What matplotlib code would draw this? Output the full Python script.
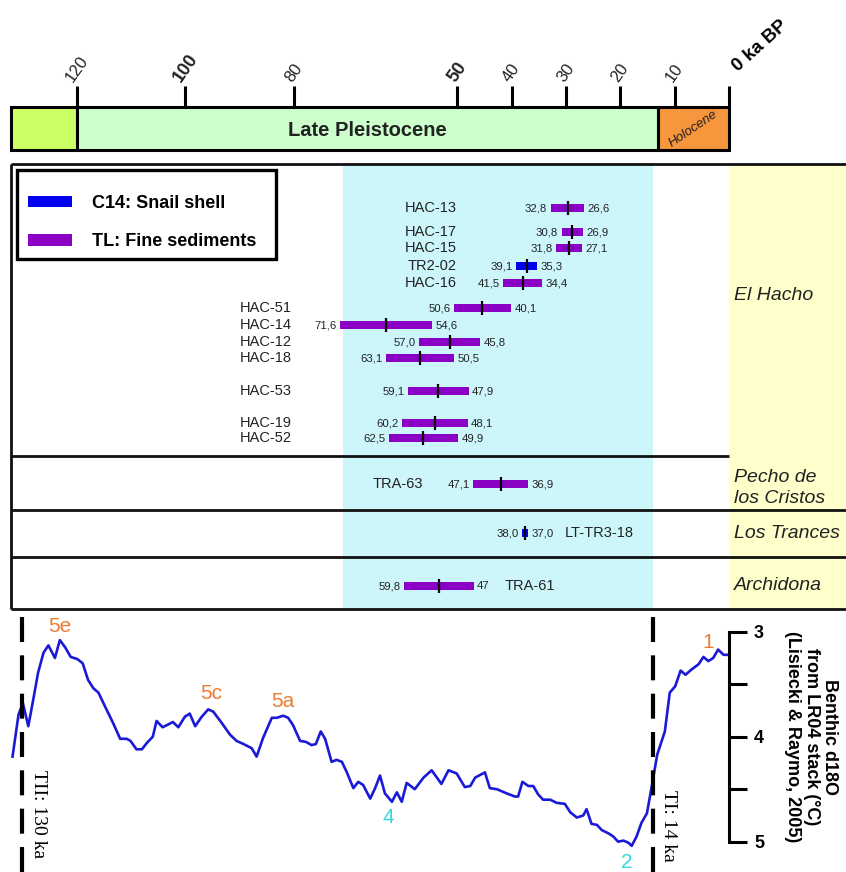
import matplotlib.pyplot as plt
from matplotlib.patches import Patch, Rectangle

plt.rcParams['font.family'] = ['Liberation Sans', 'DejaVu Sans']

# ---------------- data ----------------
# chronostratigraphic bar (ka BP)
period_names = ['', 'Late Pleistocene', 'Holocene']
period_start = [132, 120, 13]
period_end = [120, 13, 0]
period_colors = ['#ccff66', '#ccffcc', '#f7963c']

tick_ages = [120, 100, 80, 50, 40, 30, 20, 10]
tick_bold = [False, True, False, True, False, False, False, False]

# dated samples (older / younger limits as printed, ka)
samples = ['HAC-13', 'HAC-17', 'HAC-15', 'TR2-02', 'HAC-16',
           'HAC-51', 'HAC-14', 'HAC-12', 'HAC-18', 'HAC-53', 'HAC-19', 'HAC-52',
           'TRA-63', 'LT-TR3-18', 'TRA-61']
old_lbl = ['32,8', '30,8', '31,8', '39,1', '41,5',
           '50,6', '71,6', '57,0', '63,1', '59,1', '60,2', '62,5',
           '47,1', '38,0', '59,8']
young_lbl = ['26,6', '26,9', '27,1', '35,3', '34,4',
             '40,1', '54,6', '45,8', '50,5', '47,9', '48,1', '49,9',
             '36,9', '37,0', '47']
method = ['TL', 'TL', 'TL', 'C14', 'TL',
          'TL', 'TL', 'TL', 'TL', 'TL', 'TL', 'TL',
          'TL', 'C14', 'TL']
sites = ['El Hacho', 'Pecho de\nlos Cristos', 'Los Trances', 'Archidona']

# shaded band in ka
band_old, band_young = 71, 14

# LR04 benthic d18O stack (age ka, permil)
lr04_age = [131.8, 130.7, 129.9, 128.9, 128.0, 127.1, 126.1, 125.2, 124.0, 123.1,
            122.1, 121.1, 119.9, 118.9, 117.9, 116.9, 116.0, 114.8, 113.3, 112.0,
            110.8, 110.1, 109.0, 108.0, 107.1, 106.0, 105.3, 104.2, 103.4, 102.3,
            101.3, 100.1, 99.2, 98.2, 97.0, 95.8, 94.9, 93.3, 91.8, 90.6,
            89.3, 87.8, 86.9, 85.7, 84.1, 83.2, 82.0, 81.1, 80.2, 78.9,
            77.8, 76.8, 76.0, 75.1, 74.3, 73.1, 72.2, 71.2, 70.3, 69.1,
            68.2, 67.3, 66.0, 65.1, 64.2, 63.3, 62.0, 61.1, 60.2, 59.3,
            57.8, 56.2, 54.7, 52.9, 51.6, 50.1, 48.6, 47.6, 46.7, 44.9,
            44.0, 42.7, 40.9, 39.4, 38.8, 38.0, 36.9, 36.0, 35.1, 34.2,
            32.9, 31.7, 30.2, 29.2, 28.0, 26.8, 26.2, 25.3, 24.3, 23.4,
            22.2, 21.3, 20.4, 19.4, 18.5, 17.9, 17.0, 16.1, 15.1, 14.2,
            13.2, 11.8, 10.9, 9.9, 8.9, 8.0, 6.9, 5.6, 4.7, 3.8,
            2.9, 2.0, 1.0, 0.0]
lr04_d18o = [4.19, 3.79, 3.68, 3.90, 3.65, 3.39, 3.20, 3.13, 3.25, 3.08,
             3.15, 3.24, 3.26, 3.30, 3.46, 3.54, 3.58, 3.71, 3.87, 4.02,
             4.02, 4.04, 4.12, 4.12, 4.06, 4.00, 3.85, 3.91, 3.89, 3.86,
             3.91, 3.81, 3.78, 3.90, 3.81, 3.74, 3.76, 3.87, 3.98, 4.04,
             4.07, 4.11, 4.19, 4.01, 3.82, 3.82, 3.80, 3.82, 3.89, 4.04,
             4.05, 4.08, 4.07, 3.95, 4.02, 4.24, 4.22, 4.24, 4.34, 4.49,
             4.43, 4.46, 4.59, 4.49, 4.37, 4.54, 4.62, 4.53, 4.62, 4.44,
             4.50, 4.39, 4.32, 4.45, 4.32, 4.35, 4.48, 4.47, 4.39, 4.34,
             4.49, 4.50, 4.54, 4.57, 4.57, 4.43, 4.47, 4.47, 4.55, 4.60,
             4.60, 4.63, 4.64, 4.72, 4.77, 4.75, 4.69, 4.83, 4.84, 4.89,
             4.92, 4.95, 5.00, 4.99, 5.01, 5.04, 4.95, 4.82, 4.73, 4.47,
             4.17, 3.95, 3.58, 3.52, 3.37, 3.41, 3.36, 3.31, 3.24, 3.28,
             3.25, 3.17, 3.22, 3.22]

mis_labels = ['5e', '5c', '5a', '4', '2', '1']
mis_age = [123.2, 95.3, 82.1, 62.7, 18.8, 3.8]
mis_d18o = [2.95, 3.59, 3.66, 4.77, 5.20, 3.10]
mis_warm = [True, True, True, False, False, True]

term_labels = ['TII: 130 ka', 'TI: 14 ka']
term_age = [130, 14]

# ---------------- layout ----------------
W, H = 846, 872
fig = plt.figure(figsize=(W / 100, H / 100), dpi=100)

# one age scale for the whole figure: pixel x = 729 - 5.436 * age
age_left, age_right = 729 / 5.436, (729 - W) / 5.436

ax = fig.add_axes([0, 0, 1, 1])
ax.set_xlim(age_left, age_right)
ax.set_ylim(H, 0)   # y in pixels from the top
ax.axis('off')

purple = '#8a00c4'
blue = '#0000ee'
cyan_bg = '#cdf6fb'
yellow_bg = '#ffffcc'

# --- time bar ---
bar_top, bar_bot = 107, 150
for name, s, e, c in zip(period_names, period_start, period_end, period_colors):
    ax.barh((bar_top + bar_bot) / 2, s - e, left=e, height=bar_bot - bar_top,
            color=c, edgecolor='black', linewidth=2.2, zorder=2)
ax.text((period_start[1] + period_end[1]) / 2, 130, period_names[1],
        ha='center', va='center', fontsize=14.5, fontweight='bold', color='#222222')
ax.text((period_start[2] + period_end[2]) / 2, 129, period_names[2],
        ha='center', va='center', fontsize=9.5, style='italic', rotation=34,
        color='#222222', zorder=3)

ax.vlines(tick_ages + [0], 86, bar_top, color='black', linewidth=2.2, zorder=3)
for a, b in zip(tick_ages, tick_bold):
    ax.text(a, 85, str(a), rotation=55, ha='center', va='bottom',
            fontsize=13 if b else 12, fontweight='bold' if b else 'normal',
            color='#222222')
ax.text(0, 75, '0 ka BP', rotation=42, ha='left', va='bottom',
        fontsize=13.5, fontweight='bold')

# --- dating panel ---
p_top, p_bot = 164, 609
ax.barh((p_top + p_bot) / 2, band_old - band_young, left=band_young,
        height=p_bot - p_top, color=cyan_bg, zorder=0)
ax.barh((p_top + p_bot) / 2, 0 - age_right, left=age_right,
        height=p_bot - p_top, color=yellow_bg, zorder=0)

ax.hlines([p_top, 510, 557, p_bot], period_start[0], age_right,
          color='#111111', linewidth=2)
ax.hlines(456, period_start[0], 0, color='#111111', linewidth=2)
ax.vlines(period_start[0], p_top, p_bot, color='#111111', linewidth=2)

row_y = [208, 232, 248, 266, 283, 308, 325, 342, 358, 391, 423, 438, 484, 533, 586]
name_x = [50.1] * 5 + [80.4] * 7 + [56.3, 30.2, 41.2]
name_ha = ['right'] * 13 + ['left', 'left']

old = [float(v.replace(',', '.')) for v in old_lbl]
young = [float(v.replace(',', '.')) for v in young_lbl]
mid = [(o + y) / 2 for o, y in zip(old, young)]
colors = [blue if m == 'C14' else purple for m in method]

ax.barh(row_y, [o - y for o, y in zip(old, young)], left=young, height=8.5,
        color=colors, zorder=3)
ax.vlines(mid, [y - 7 for y in row_y], [y + 7 for y in row_y],
          color='black', linewidth=1.6, zorder=4)
for y, o, yo, ol, yl in zip(row_y, old, young, old_lbl, young_lbl):
    ax.annotate(ol, (o, y), xytext=(-2.5, 0), textcoords='offset points',
                ha='right', va='center', fontsize=8.2, color='#222222')
    ax.annotate(yl, (yo, y), xytext=(2.5, 0), textcoords='offset points',
                ha='left', va='center', fontsize=8.2, color='#222222')
for s, x, ha, y in zip(samples, name_x, name_ha, row_y):
    ax.text(x, y, s, ha=ha, va='center', fontsize=10.5, color='#222222')

site_y = [295, 488, 533, 585]
for s, y in zip(sites, site_y):
    ax.text(-1.0, y, s, ha='left', va='center', fontsize=14, style='italic',
            color='#222222', linespacing=1.3)

# legend: entries placed freely, frame drawn as its own box
handles = [Patch(facecolor=blue, label='C14: Snail shell'),
           Patch(facecolor=purple, label='TL: Fine sediments')]
leg = ax.legend(handles=handles, loc='center left',
                bbox_to_anchor=(28 / W, 1 - 222.5 / H), bbox_transform=fig.transFigure,
                frameon=False, borderaxespad=0, borderpad=0,
                prop=dict(weight='bold', size=13),
                handlelength=2.45, handleheight=0.6, handletextpad=1.1,
                labelspacing=1.2)
fig.add_artist(Rectangle((17 / W, 1 - 259 / H), 259 / W, 89 / H,
                         transform=fig.transFigure, fill=False,
                         edgecolor='black', linewidth=2.4))

# --- LR04 panel ---
ax_d = fig.add_axes([0, 0, 1, (H - 610) / H])
ax_d.set_facecolor('none')
ax_d.set_xlim(age_left, age_right)
ax_d.set_ylim(5.289, 2.793)
ax_d.plot(lr04_age, lr04_d18o, color='#1a1ad6', linewidth=1.9)

for a in term_age:
    ax_d.axvline(a, color='black', linewidth=3, dashes=(6, 3.2))
term_top = [4.32, 4.51]
for lab, a, t in zip(term_labels, term_age, term_top):
    ax_d.annotate(lab, (a, t), xytext=(11.5, 0), textcoords='offset points',
                  rotation=270, ha='center', va='top', fontsize=14,
                  family='Liberation Serif')

for lab, a, d, warm in zip(mis_labels, mis_age, mis_d18o, mis_warm):
    ax_d.text(a, d, lab, ha='center', va='center', fontsize=15,
              color='#ee7a30' if warm else '#38d8e0')

for sp in ['top', 'left', 'bottom']:
    ax_d.spines[sp].set_visible(False)
ax_d.spines['right'].set_position(('data', 0))
ax_d.spines['right'].set_bounds(3, 5)
ax_d.spines['right'].set_linewidth(2.2)
ax_d.yaxis.tick_right()
ax_d.set_xticks([])
ax_d.set_yticks([3, 4, 5])
ax_d.set_yticks([3.5, 4.5], minor=True)
ax_d.tick_params(axis='y', which='both', direction='out', length=13, width=2.2,
                 labelsize=13, pad=5)
for t in ax_d.get_yticklabels():
    t.set_fontweight('bold')

fig.text(811 / W, 1 - 737 / H,
         'Benthic d18O\nfrom LR04 stack (°C)\n(Lisiecki & Raymo, 2005)',
         rotation=270, ha='center', va='center', multialignment='center',
         fontsize=13, fontweight='bold', linespacing=1.15)

fig.savefig('out.png', dpi=100)
